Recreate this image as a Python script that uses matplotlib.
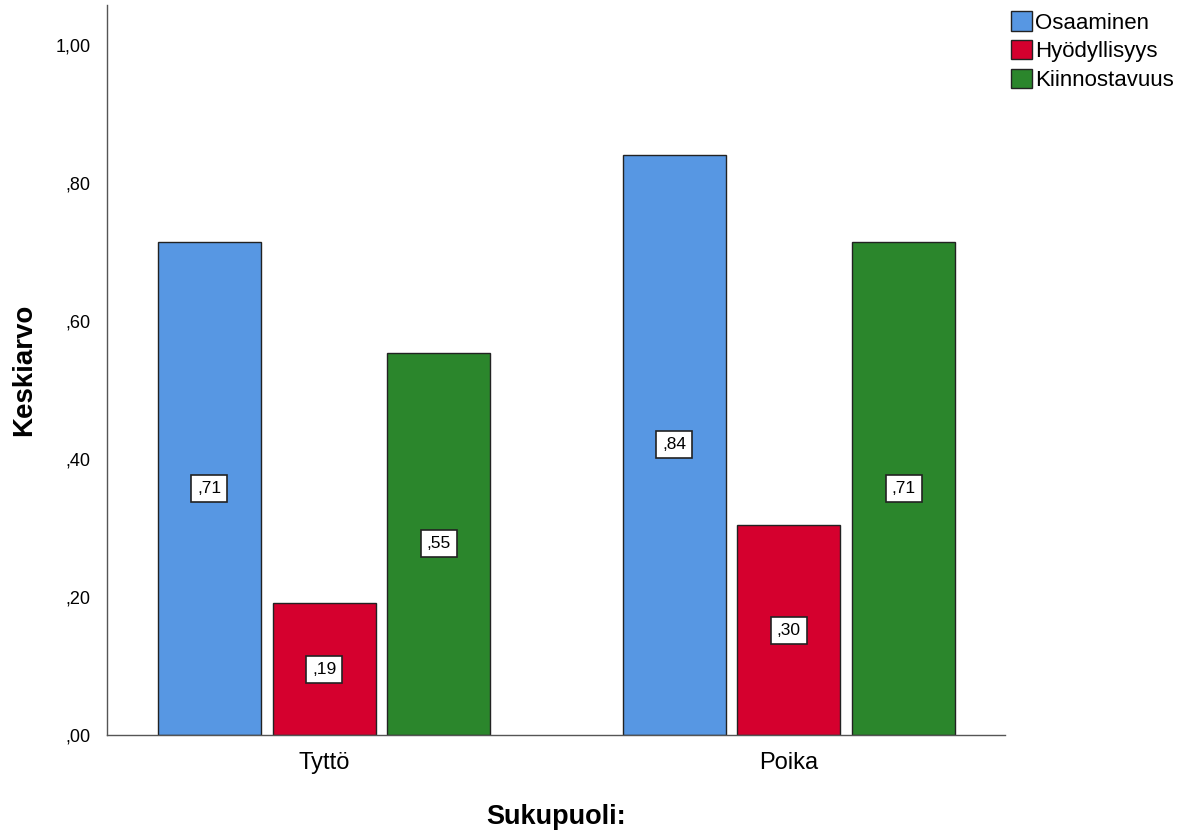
import matplotlib.pyplot as plt
import numpy as np
from matplotlib.patches import Patch

plt.rcParams['font.family'] = ['Liberation Sans', 'DejaVu Sans']

# mean values by gender
groups = ['Tyttö', 'Poika']
series = ['Osaaminen', 'Hyödyllisyys', 'Kiinnostavuus']
osaaminen = [0.714, 0.841]
hyodyllisyys = [0.191, 0.304]
kiinnostavuus = [0.554, 0.714]
yticks = [0.0, 0.2, 0.4, 0.6, 0.8, 1.0]

colors = ['#5797E3', '#D5002E', '#2B862C']


def fmt(v):
    # SPSS style: comma decimal, no leading zero below one
    s = '%.2f' % v
    if v < 1:
        s = s[1:]
    return s.replace('.', ',')


fig = plt.figure(figsize=(11.89, 8.32), dpi=100)
ax = fig.add_axes([107 / 1189, 97 / 832, 898 / 1189, 730 / 832])

x = np.arange(len(groups))
width = 0.2215
step = 0.247
for i, (name, vals) in enumerate(zip(series, [osaaminen, hyodyllisyys, kiinnostavuus])):
    pos = x + (i - 1) * step
    ax.bar(pos, vals, width, color=colors[i], edgecolor='#222222', linewidth=1.0, label=name)
    for p, v in zip(pos, vals):
        ax.text(p, v / 2, fmt(v), ha='center', va='center', fontsize=12.5,
                bbox=dict(boxstyle='square,pad=0.35', facecolor='white', edgecolor='#222222', linewidth=1.2))

ax.set_xlim(-0.467, 1.465)
ax.set_ylim(0, 1.058)
ax.set_xticks(x)
ax.set_xticklabels(groups, fontsize=17)
ax.set_yticks(yticks)
ax.set_yticklabels([fmt(t) for t in yticks], fontsize=13)
ax.tick_params(axis='y', length=0, pad=12)
ax.tick_params(axis='x', length=0, pad=12)

for s in ['top', 'right']:
    ax.spines[s].set_visible(False)
for s in ['left', 'bottom']:
    ax.spines[s].set_color('#555555')
    ax.spines[s].set_linewidth(1.0)

ax.set_ylabel('Keskiarvo', fontsize=20, fontweight='bold')
ax.yaxis.set_label_coords(-0.078, 0.5)
ax.set_xlabel('Sukupuoli:', fontsize=19.5, fontweight='bold', labelpad=22)

handles = [Patch(facecolor=c, edgecolor='#222222', linewidth=1.0) for c in colors]
fig.legend(handles, series, loc='upper left', bbox_to_anchor=(1002 / 1189, 0.997),
           frameon=False, fontsize=16, handlelength=0.95, handleheight=0.95,
           handletextpad=0.15, labelspacing=0.3, borderaxespad=0.0)

fig.savefig('out.png', dpi=100)
